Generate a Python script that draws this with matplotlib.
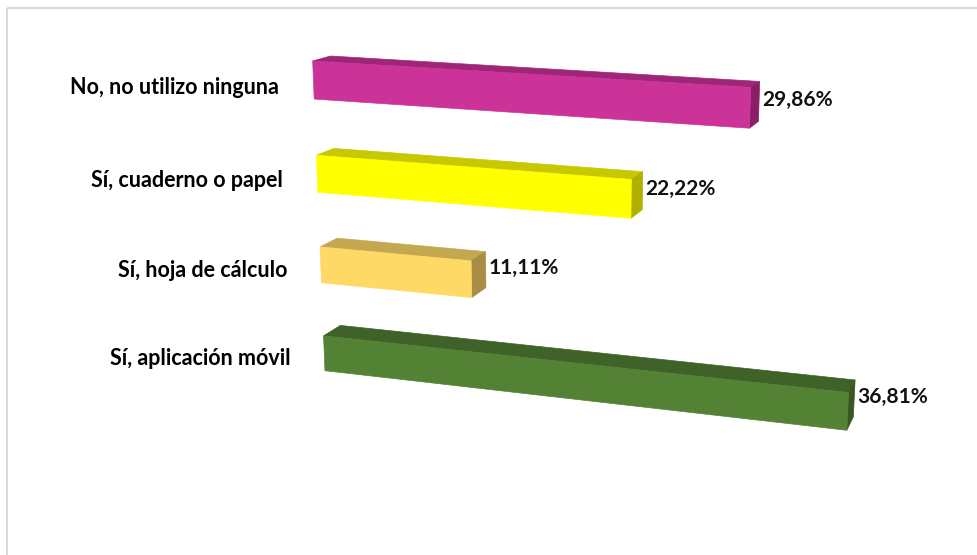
import numpy as np
import matplotlib.pyplot as plt
from matplotlib.patches import Polygon, Rectangle

categorias = ['No, no utilizo ninguna', 'Sí, cuaderno o papel',
              'Sí, hoja de cálculo', 'Sí, aplicación móvil']
porcentajes = [29.86, 22.22, 11.11, 36.81]
etiquetas = ['29,86%', '22,22%', '11,11%', '36,81%']

color_frente = ['#CC3399', '#FFFF00', '#FFD966', '#548235']
color_arriba = ['#9E2577', '#C8C800', '#C4A850', '#3F6228']
color_lado = ['#8A1F66', '#B0B000', '#A88D42', '#385723']

# vista en perspectiva: (valor, fila, profundidad) -> pixel
P = np.array([
    [12.94, 8.5, 25.1, 311.55],
    [0.68, 97.06, -3.76, 32.15],
    [-0.002389, 0.015, 0.022, 1.0],
])


def proyectar(u, w, d=0.0):
    x, y, z = P @ np.array([u, w, d, 1.0])
    return x / z, y / z


def cara(puntos):
    return [proyectar(*p) for p in puntos]


plt.rcParams['font.family'] = ['Lato', 'DejaVu Sans']

fig = plt.figure(figsize=(9.78, 5.55), dpi=100)
ax = fig.add_axes([0, 0, 1, 1])
ax.set_xlim(0, 978)
ax.set_ylim(555, 0)
ax.axis('off')

# marco del area del grafico
ax.add_patch(Rectangle((7, 8), 1000, 600, fill=False, edgecolor='#D9D9D9', lw=1.5))

grosor = 0.4
for i, v in enumerate(porcentajes):
    w0 = i + 0.5 - grosor / 2
    w1 = i + 0.5 + grosor / 2
    arriba = cara([(0, w0, 0), (v, w0, 0), (v, w0, 1), (0, w0, 1)])
    lado = cara([(v, w0, 0), (v, w1, 0), (v, w1, 1), (v, w0, 1)])
    frente = cara([(0, w0, 0), (v, w0, 0), (v, w1, 0), (0, w1, 0)])
    for pts, col in [(arriba, color_arriba[i]), (lado, color_lado[i]), (frente, color_frente[i])]:
        ax.add_patch(Polygon(pts, closed=True, facecolor=col, edgecolor=col, lw=0.5))

    xe, ye = proyectar(v, i + 0.5, 1)
    ax.text(xe + 3, ye - 2, etiquetas[i], ha='left', va='center',
            fontsize=15, fontweight='bold', color='#111111')

    xc, yc = proyectar(-2.6, i + 0.6, 0)
    ax.text(xc, yc, categorias[i], ha='right', va='center',
            fontsize=15.5, fontweight='bold', color='black')

fig.savefig('out.png', dpi=100)
